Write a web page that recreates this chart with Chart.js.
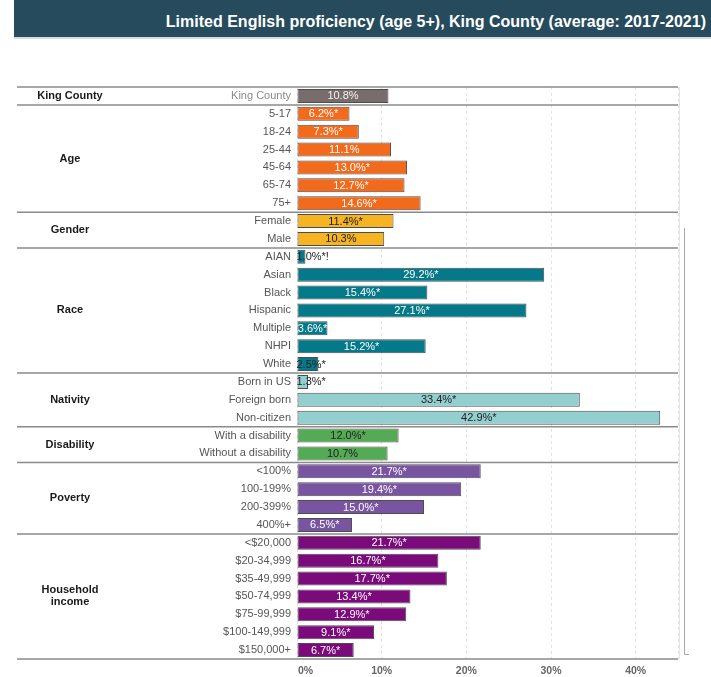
<!DOCTYPE html>
<html>
<head>
<meta charset="utf-8">
<script src="https://cdn.jsdelivr.net/npm/chart.js@4.4.1/dist/chart.umd.min.js"></script>
<style>
  html, body { margin: 0; padding: 0; background: #fff; }
  body { width: 711px; height: 677px; position: relative; overflow: hidden; font-family: "Liberation Sans", Arial, sans-serif; }
  #header { position: absolute; left: 14px; top: 0; width: 697px; height: 37px; background: #264b5d; border-bottom: 2px solid #d3dee3; }
  #header span { position: absolute; right: 5px; top: 14px; line-height: 16px; font-size: 16px; font-weight: bold; color: #fff; white-space: nowrap; }
  #wrap { position: absolute; left: 0; top: 0; width: 711px; height: 677px; }
</style>
</head>
<body>
<div id="header"><span>Limited English proficiency (age 5+), King County (average: 2017-2021)</span></div>
<div id="wrap"><canvas id="lep" width="711" height="677"></canvas></div>
<script>
// data
const groupNames = ['King County', 'Age', 'Gender', 'Race', 'Nativity', 'Disability', 'Poverty', 'Household income'];

const kingCountyCats = ['King County'];
const kingCountyVals = [10.8];
const kingCountyFlags = [''];

const ageCats = ['5-17', '18-24', '25-44', '45-64', '65-74', '75+'];
const ageVals = [6.2, 7.3, 11.1, 13.0, 12.7, 14.6];
const ageFlags = ['*', '*', '', '*', '*', '*'];

const genderCats = ['Female', 'Male'];
const genderVals = [11.4, 10.3];
const genderFlags = ['*', ''];

const raceCats = ['AIAN', 'Asian', 'Black', 'Hispanic', 'Multiple', 'NHPI', 'White'];
const raceVals = [1.0, 29.2, 15.4, 27.1, 3.6, 15.2, 2.5];
const raceFlags = ['*!', '*', '*', '*', '*', '*', '*'];

const nativityCats = ['Born in US', 'Foreign born', 'Non-citizen'];
const nativityVals = [1.3, 33.4, 42.9];
const nativityFlags = ['*', '*', '*'];

const disabilityCats = ['With a disability', 'Without a disability'];
const disabilityVals = [12.0, 10.7];
const disabilityFlags = ['*', ''];

const povertyCats = ['<100%', '100-199%', '200-399%', '400%+'];
const povertyVals = [21.7, 19.4, 15.0, 6.5];
const povertyFlags = ['*', '*', '*', '*'];

const incomeCats = ['<$20,000', '$20-34,999', '$35-49,999', '$50-74,999', '$75-99,999', '$100-149,999', '$150,000+'];
const incomeVals = [21.7, 16.7, 17.7, 13.4, 12.9, 9.1, 6.7];
const incomeFlags = ['*', '*', '*', '*', '*', '*', '*'];

const xTicks = [0, 10, 20, 30, 40];

// styles
const groupColors = ['#776d6d', '#f26b1d', '#f6b322', '#03798a', '#94cfd0', '#55ab55', '#7954a1', '#7b0a7b'];
const groupTextColors = ['#f4f4f4', '#ffffff', '#222222', '#ffffff', '#222222', '#222222', '#ffffff', '#ffffff'];
const FONT = '"Liberation Sans", Arial, sans-serif';

const groupCats = [kingCountyCats, ageCats, genderCats, raceCats, nativityCats, disabilityCats, povertyCats, incomeCats];
const groupVals = [kingCountyVals, ageVals, genderVals, raceVals, nativityVals, disabilityVals, povertyVals, incomeVals];
const groupFlags = [kingCountyFlags, ageFlags, genderFlags, raceFlags, nativityFlags, disabilityFlags, povertyFlags, incomeFlags];

// flatten
const labels = [], values = [], barLabels = [], barColors = [], textColors = [], groupRanges = [];
groupCats.forEach((cats, g) => {
    const start = labels.length;
    cats.forEach((c, i) => {
        labels.push(c);
        values.push(groupVals[g][i]);
        barLabels.push(groupVals[g][i].toFixed(1) + '%' + groupFlags[g][i]);
        barColors.push(groupColors[g]);
        textColors.push(groupTextColors[g]);
    });
    groupRanges.push([start, labels.length - 1]);
});

const decorPlugin = {
    id: 'decor',
    afterDatasetsDraw(chart) {
        const ctx = chart.ctx;
        const meta = chart.getDatasetMeta(0);
        ctx.save();
        ctx.font = '11px ' + FONT;
        ctx.textBaseline = 'middle';
        ctx.textAlign = 'left';
        meta.data.forEach((bar, i) => {
            const txt = barLabels[i];
            const w = ctx.measureText(txt).width;
            const barW = bar.x - bar.base;
            const cx = (bar.x + bar.base) / 2;
            const tx = Math.max(cx - w / 2, bar.base - 1);
            ctx.fillStyle = (w <= barW + 2) ? textColors[i] : '#222';
            ctx.fillText(txt, tx, bar.y + 0.5);
        });
        ctx.restore();
    },
    afterDraw(chart) {
        const ctx = chart.ctx;
        const area = chart.chartArea;
        const y = chart.scales.y;
        const x = chart.scales.x;
        ctx.save();

        // faint right edge of plot
        ctx.strokeStyle = '#e6e6e6';
        ctx.lineWidth = 1;
        ctx.beginPath();
        ctx.moveTo(area.right + 1.5, area.top);
        ctx.lineTo(area.right + 1.5, area.bottom);
        ctx.stroke();

        // group separators
        ctx.strokeStyle = '#8a8a8a';
        ctx.lineWidth = 1.5;
        const seps = [area.top, area.bottom];
        for (let g = 0; g < groupRanges.length - 1; g++) {
            const a = y.getPixelForValue(groupRanges[g][1]);
            const b = y.getPixelForValue(groupRanges[g + 1][0]);
            seps.push((a + b) / 2);
        }
        seps.forEach(sy => {
            ctx.beginPath();
            ctx.moveTo(17, sy);
            ctx.lineTo(area.right, sy);
            ctx.stroke();
        });

        // group names
        ctx.fillStyle = '#1a1a1a';
        ctx.font = 'bold 11px ' + FONT;
        ctx.textAlign = 'center';
        ctx.textBaseline = 'middle';
        groupRanges.forEach((r, g) => {
            const cy = (y.getPixelForValue(r[0]) + y.getPixelForValue(r[1])) / 2;
            const name = groupNames[g];
            if (name === 'Household income') {
                ctx.fillText('Household', 70, cy - 6);
                ctx.fillText('income', 70, cy + 6);
            } else {
                ctx.fillText(name, 70, cy);
            }
        });

        // x tick labels
        ctx.fillStyle = '#666';
        ctx.font = 'bold 10.5px ' + FONT;
        xTicks.forEach(v => {
            const px = x.getPixelForValue(v);
            ctx.textAlign = v === 0 ? 'left' : 'center';
            ctx.fillText(v + '%', v === 0 ? px + 1 : px, 671.5);
        });

        // bracket line at right
        ctx.strokeStyle = '#aaa';
        ctx.lineWidth = 1;
        ctx.beginPath();
        ctx.moveTo(684.5, 228);
        ctx.lineTo(684.5, 654.5);
        ctx.lineTo(689, 654.5);
        ctx.stroke();

        ctx.restore();
    }
};

new Chart(document.getElementById('lep'), {
    type: 'bar',
    data: {
        labels: labels,
        datasets: [{
            data: values,
            backgroundColor: barColors,
            borderColor: '#4d4d4d',
            borderWidth: 1,
            borderSkipped: false,
            barPercentage: 0.78,
            categoryPercentage: 1
        }]
    },
    options: {
        indexAxis: 'y',
        responsive: false,
        animation: false,
        events: [],
        layout: { padding: { top: 87, right: 33, bottom: 0, left: 0 } },
        plugins: { legend: { display: false }, tooltip: { enabled: false } },
        scales: {
            x: {
                min: 0,
                max: 45,
                afterFit: s => { s.height = 18; },
                ticks: { display: false, stepSize: 10 },
                grid: { color: '#e2e2e2', drawTicks: false },
                border: { display: false, dash: [3, 3] }
            },
            y: {
                afterFit: s => { s.width = 297; },
                ticks: {
                    padding: 6,
                    autoSkip: false,
                    font: { family: FONT, size: 11 },
                    color: ctx => ctx.index === 0 ? '#8a8a8a' : '#555'
                },
                grid: { display: false, drawTicks: false },
                border: { display: false }
            }
        }
    },
    plugins: [decorPlugin]
});
</script>
</body>
</html>
